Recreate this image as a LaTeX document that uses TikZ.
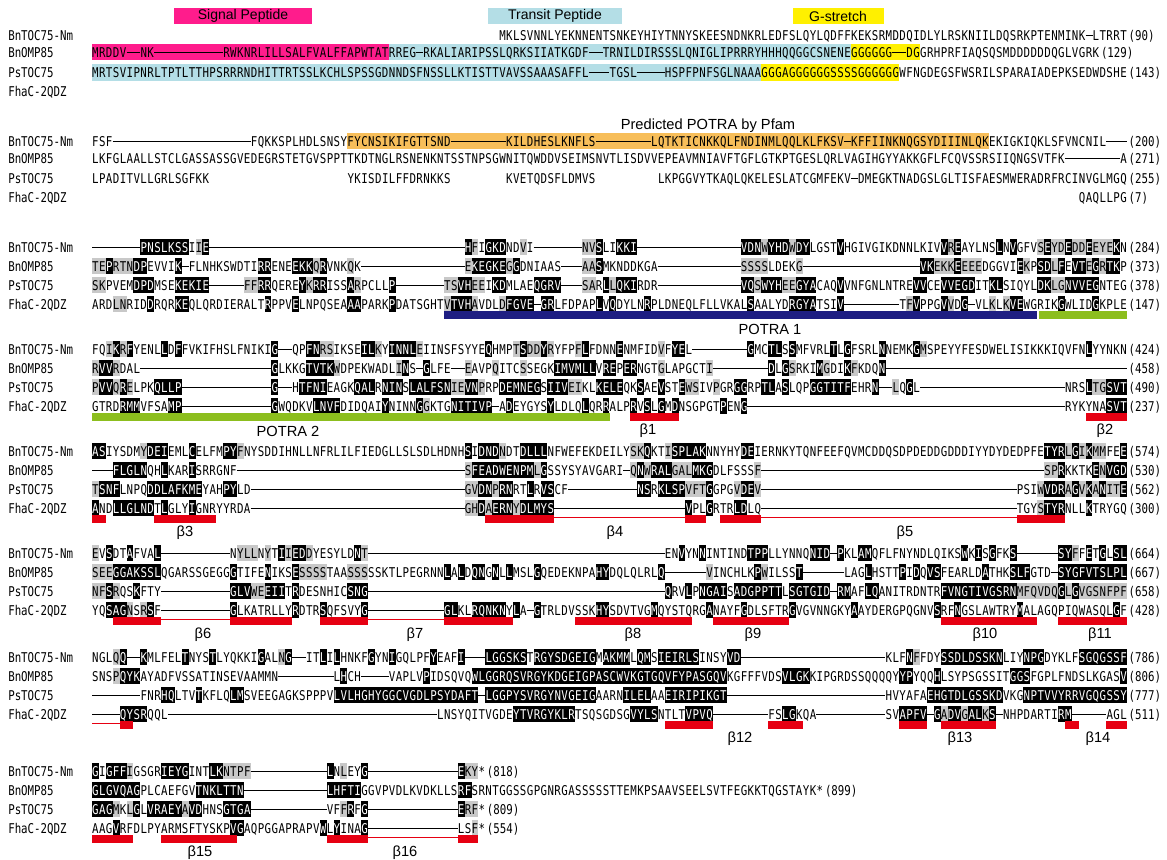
\documentclass[tikz,border=0pt]{standalone}
\usepackage{fontspec}
\setmainfont{Liberation Sans}
\newfontfamily\seqfont{DejaVu Sans Mono}[FakeStretch=0.8]
\usetikzlibrary{positioning}

\definecolor{sigpink}{RGB}{255,28,140}
\definecolor{transblue}{RGB}{180,222,230}
\definecolor{gyellow}{RGB}{255,240,0}
\definecolor{potraorange}{RGB}{247,190,90}
\definecolor{potranavy}{RGB}{30,30,130}
\definecolor{potragreen}{RGB}{140,190,30}
\definecolor{strandred}{RGB}{230,0,18}
\definecolor{seqgrey}{RGB}{200,200,200}

\newlength\pxu \setlength\pxu{0.75pt}
\newlength\cw  \setlength\cw{6.9\pxu}

% alignment rows: X plain, x black box, +X grey box, - gap, . blank
\newif\ifgreycell
\makeatletter
\newcommand\sq[1]{{\seqfont\fontsize{10.1pt}{12pt}\selectfont\sq@loop#1\relax}}
\def\sq@loop#1{\ifx\relax#1\else\sq@tok#1\expandafter\sq@loop\fi}
\def\sq@tok#1{%
  \if#1+\global\greycelltrue\else
  \if#1-\rule[3.6\pxu]{\cw}{1.2\pxu}\else
  \if#1.\kern\cw\else
    \ifnum\lccode`#1=`#1\relax\uppercase{\sq@blk{#1}}%
    \else\ifgreycell\sq@cell{seqgrey}{black}{#1}\else\makebox[\cw]{#1}\fi\fi
    \global\greycellfalse
  \fi\fi\fi}
\def\sq@blk#1{\sq@cell{black}{white}{#1}}
\def\sq@cell#1#2#3{\rlap{\color{#1}\rule[-2.5\pxu]{\cw}{16\pxu}}\makebox[\cw]{\color{#2}#3}}
\makeatother

% column n -> left edge in px
\newcommand\colx[1]{85.1+#1*6.9}

\tikzset{
  seq/.style      = {anchor=base west, inner sep=0pt, outer sep=0pt},
  num/.style      = {inner sep=0pt, font=\seqfont\fontsize{10.1pt}{12pt}\selectfont},
  rowname/.style  = {anchor=base west, inner sep=0pt,
                     font=\seqfont\fontsize{10.1pt}{12pt}\selectfont},
  hdr/.style      = {minimum height=12pt, inner sep=0pt,
                     font=\fontsize{10.5pt}{11pt}\selectfont},
  feature/.style  = {inner sep=0pt, font=\fontsize{11pt}{12pt}\selectfont},
  strand/.style   = {fill=strandred},
  loopline/.style = {strandred, line width=1.1pt},
}

\newcommand\seqrow[5]{%
  \node[seq] (#1) at ({\colx{#2}},#3) {\sq{#4}};
  \node[num, base right=1pt of #1] (#1n) {#5};}
\newcommand\strandbar[3]{\fill[strand] ({\colx{#1}},#3) rectangle ({\colx{#2}+6.9},{#3+7.5});}
\newcommand\loopbar[3]{\draw[loopline] ({\colx{#1}},{#3+2.5}) -- ({\colx{#2}},{#3+2.5});}

\begin{document}
\begin{tikzpicture}[x=0.75pt, y=-0.75pt]
  \fill[white] (0,0) rectangle (1167,860);
  \useasboundingbox (0,0) rectangle (1167,860);

  % ---------------- block 1 ----------------
  \node[hdr, fill=sigpink,   minimum width=103.5pt] (sigpep) at (243,16) {Signal Peptide};
  \node[hdr, fill=transblue, minimum width=100.5pt] (trpep)  at (555,16) {Transit Peptide};
  \node[hdr, fill=gyellow,   minimum width=68.25pt] (gstr)   at (838,16) {G-stretch};

  \fill[sigpink]   ({\colx{1}},43.5)   rectangle ({\colx{44}},60);
  \fill[transblue] ({\colx{44}},43.5)  rectangle ({\colx{111}},60);
  \fill[gyellow]   ({\colx{111}},43.5) rectangle ({\colx{121}},60);
  \fill[transblue] ({\colx{1}},64)     rectangle ({\colx{98}},80.5);
  \fill[gyellow]   ({\colx{98}},64)    rectangle ({\colx{118}},80.5);

  \foreach \nm/\yy in {BnTOC75-Nm/40, BnOMP85/57, PsTOC75/77, FhaC-2QDZ/96}
    \node[rowname] (nm\yy) at (8,\yy) {\nm};

  \seqrow{bIa}{60}{40}{MKLSVNNLYEKNNENTSNKEYHIYTNNYSKEESNDNKRLEDFSLQYLQDFFKEKSRMDDQIDLYLRSKNIILDQSRKPTENMINK-LTRRT}{(90)}
  \seqrow{bIb}{1}{57}{MRDDV--NK----- -----RWKNRLILLSALFVALFFAPWTAT RREG-RKALIARIPSSLQRKSIIATKGDF--TRNILDIRSSSLQNIGLIPRRRYHHHQQGGCSNENE GGGGGG--DGG RHPRFIAQSQSMDDDDDDQGLVGRK}{(129)}
  \seqrow{bIc}{1}{77}{MRTSVIPNRLTPTLTTHPSRRRNDHITTRTSSLKCHLSPSSGDNNDSFNSSLLKTISTTVAVSSAAASAFFL---TGSL----HSPFPNFSGLNAAA GGGAGGGGGGSSSSGGGGGG WFNGDEGSFWSRILSPARAIADEPKSEDWDSHE}{(143)}

  % ---------------- block 2 ----------------
  \node[feature] (pfam) at (708,126) {Predicted POTRA by Pfam};
  \fill[potraorange] ({\colx{38}},132.5) rectangle ({\colx{131}},149);
  \foreach \nm/\yy in {BnTOC75-Nm/146, BnOMP85/163, PsTOC75/183, FhaC-2QDZ/202}
    \node[rowname] (nm\yy) at (8,\yy) {\nm};

  \seqrow{bIIa}{1}{146}{FSF----- ----- ----- -----FQKKSPLHDLSNSY FYCNSIKIFGTTSND-------- KILDHESLKNFLS-------- LQTKTICNKKQLFNDINMLQQLKLFKSV-KFFIINKNQGSYDIIINLQK EKIGKIQKLSFVNCNIL---}{(200)}
  \seqrow{bIIb}{1}{163}{LKFGLAALLSTCLGASSASSGVEDEGRSTETGVSPPTTKDTNGLRSNENKNTSSTNPSGWNITQWDDVSEIMSNVTLISDVVEPEAVMNIAVFTGFLGTKPTGESLQRLVAGIHGYYAKKGFLFCQVSSRSIIQNGSVTFK--------A}{(271)}
  \seqrow{bIIc}{1}{183}{LPADITVLLGRLSGFKK..... ..... ..... .....YKISDILFFDRNKKS........ KVETQDSFLDMVS......... LKPGGVYTKAQLQKELESLATCGMFEKV-DMEGKTNADGSLGLTISFAESMWERADRFRCINVGLMGQ}{(255)}
  \seqrow{bIId}{144}{202}{QAQLLPG}{(7)}

  % ---------------- block 3 ----------------
  \foreach \nm/\yy in {BnTOC75-Nm/252, BnOMP85/271, PsTOC75/290, FhaC-2QDZ/309}
    \node[rowname] (nm\yy) at (8,\yy) {\nm};

  \seqrow{bIIIa}{1}{252}{----- --pnslkssI+Ie----- ----- ----- ----- ----- ----- ----- --h+FIgkdND+VI----- --+N+VsLIkki----- ----- -----vdn+Wyhd+WdyLGSTvHGIVGIKDNNLKIVv+ReAYLNSlNvGFV+Se+Y+De+D+De+E+Y+EkN}{(284)}
  \seqrow{bIIIb}{1}{271}{+T+Ep+R+T+NdpEVVIk-FLNHKSWDTIrrENEekk+QrVNK+QK----- ----- -----+Ekegke+GgDNIAAS---+A+AsMKNDDKGA----- ----- --+S+S+S+SLDEK+G----- ----- ----- --vk+E+K+Ke+E+E+EDGGVIe+KPsd+LfEvt+Eg+RtkP}{(373)}
  \seqrow{bIIIc}{1}{290}{+S+KPVEMdpdMSEkekie-----+F+FrrQEREy+KrrISSa+RPCLLp----- --+T+Svh+E+EIkdMLAEqgrv---+S+ARl+LqkiRDR----- ----- --vq+Swyh+E+EgyaCAQvVNFGNLNTREvvCEvvegdITklSIQYLdk+L+GnvvegNTEG}{(378)}
  \seqrow{bIIId}{1}{309}{ARD+L+NRIDdRQRkeQLQRDIERALTrPPVeLNPQSEAaaPARKpDATSGHT+Vtvh+AVDL+Dfgve-grLFDPAPlVqDYLNrPLDNEQLFLLVKALsAALYDrgyaTSIv----- ---T+FvPPGv+VDg-VL+KL+KveWGRIKgWLIDgKPLE}{(147)}

  \fill[potranavy]  ({\colx{52}},311) rectangle ({\colx{138}},318.5);
  \fill[potragreen] ({\colx{138}+2},311) rectangle ({\colx{150}+6.9},318.5);
  \node[feature] (potra1) at (770,329) {POTRA 1};

  % ---------------- block 4 ----------------
  \foreach \nm/\yy in {BnTOC75-Nm/354, BnOMP85/373, PsTOC75/392, FhaC-2QDZ/411}
    \node[rowname] (nm\yy) at (8,\yy) {\nm};

  \seqrow{bIVa}{1}{354}{FQ+Ik+RfYENLlDfFVKIFHSLFNIKIg--QPfn+R+SIKSEil+KYinnl+EIINSFSYYEqHMP+Ts+D+Dy+RYFP+FlFDNNeNMFID+VFyeL----- ---gMCtlSsMFVRLtLgFSRLnNEMKg+MSPEYYFESDWELISIKKKIQVFNlYYNKN}{(424)}
  \seqrow{bIVb}{1}{373}{+Rvv+RDAL----- ----- ----- ----gLKKGtvtk+WDPEKWADL+InS-gLFE--+EAVP+QITC+SSEGKimvmllVrePerNGT+GLAPGCT+I----- ---dLg+SRKIm+GDIk+FKDQn----- ----- ----- ----- ----- ----- -----}{(458)}
  \seqrow{bIVc}{1}{392}{+Pvv+Qr+ELPKqllp----- ----- ---g--HtfniEAGKq alRninSlal fsn+I+Evn+PRP demnegSiiv +E+IKLkeleQK sAEvSTe+W+SI V+PGRggRPtl AsLQPggtit fEHRn--+LQgL----- ----- ----- ----- -NRSl+T+Gsvt}{(490)}
  \seqrow{bIVd}{1}{411}{GTRDrmmVFSAmp----- ----- ---gWQDKVlnvfDIDQAIyNINNg+GKTGnitivp-AdEYGYSyLDLQlQRrALPrVsLgMdNSGPGTpENg----- ----- ----- ----- ----- ----- ----- ----- ----- -RYKYNAsvt}{(237)}

  \fill[potragreen] ({\colx{1}},413) rectangle ({\colx{75}+6.9},420.5);
  \strandbar{79}{85}{413}
  \strandbar{145}{150}{413}
  \node[feature] (potra2) at (288,431) {POTRA 2};
  \node[feature] (bI)  at (648,431) {β1};
  \node[feature] (bII) at (1105,431) {β2};

  % ---------------- block 5 ----------------
  \foreach \nm/\yy in {BnTOC75-Nm/456, BnOMP85/475, PsTOC75/494, FhaC-2QDZ/513}
    \node[rowname] (nm\yy) at (8,\yy) {\nm};

  \seqrow{bVa}{1}{456}{asIYSDM+Yde iEMLcELFMp y+FNYSDDIHN LLNFRLILFI EDGLLSLSDL HDNHsIdnd+N DTdlllNFWE FEKDEILY+S+K qKT+IsplakN NYHYdeIERN KYTQNFEEFQ VMCDDQSDPD EDDGDDDIYY DYDEDPFEty r+Lg+Ik+M+MFEe}{(574)}
  \seqrow{bVb}{1}{475}{---flglnQHlKARiSRRGNF----- ----- ----- ----- ----- ----- ---+Sfeadwenpm+LgSSYSYAVGARI-+Qn+Wral+G+A+LmkgDLFSSS+F----- ----- ----- ----- ----- ----- ----- ----- -+S+PrKKTKe+Nvgd}{(530)}
  \seqrow{bVc}{1}{494}{+TsnfLNPQddlafkmeYAHpyLD----- ----- ----- ----- ----- ----- -+G+Vdn+PrnRTlRvsCF----- -----nsRklsp+V+F+TgGPG+Vde+V----- ----- ----- ----- ----- ----- ----- --PSI+Wvdr+Ag+Vk+An+I+Te}{(562)}
  \seqrow{bVd}{1}{513}{aNDllglndTlGLYiGNRYYRDA----- ----- ----- ----- ----- ----- -+G+Hd+Aern+Ydlmys----- ----- ----- ----vPLgRTRldLQ----- ----- ----- ----- ----- ----- ----- --TGY+StyrNLLkTRYGQ}{(300)}

  \strandbar{1}{2}{515}
  \strandbar{10}{18}{515}
  \strandbar{58}{67}{515}
  \strandbar{87}{89}{515}
  \strandbar{92}{97}{515}
  \strandbar{135}{141}{515}
  \loopbar{68}{87}{515}
  \loopbar{98}{135}{515}
  \node[feature] (bIII) at (185,533) {β3};
  \node[feature] (bIV)  at (615,533) {β4};
  \node[feature] (bV)   at (905,533) {β5};

  % ---------------- block 6 ----------------
  \foreach \nm/\yy in {BnTOC75-Nm/558, BnOMP85/577, PsTOC75/596, FhaC-2QDZ/615}
    \node[rowname] (nm\yy) at (8,\yy) {\nm};

  \seqrow{bVIa}{1}{558}{+EVsDTaFVAl----- -----N+Y+L+LN+YTi+Ied+DYESYLDn+T----- ----- ----- ----- ----- ----- ----- ----- ---ENvYNnINTINDtppLLYNNQnid-pKLamQFLFNYNDLQIKSwKiSgFKs----- -sy+FFeTgLsl}{(664)}
  \seqrow{bVIb}{1}{577}{+S+E+Eggakssl QGARSSGEGG gTIFEnIKSe +S+S+S+STAA+S+S+S SSKTLPEGRN NlAlDqnGnL lMSLgQEDEK NPAhyDQLQL RLq----- -+VINCHLKp+WILSSt----- -LAGlHSTTpIdQvsFEARLDaTHKslfGTD-sygfvtslpl}{(667)}
  \seqrow{bVIc}{1}{596}{+N+Fs+RQSkFTY----- -----glv+W+EeiiTrDESNHICsng----- ----- ----- ----- ----- ----- ----- ----- ---qRVlPngaiS adgppttLsg tgid-rmAFl qANITRDNTR fvngtivgsr n+M+F+Q+V+D+Qg+Lg +V+G+S+N+F+P+F}{(658)}
  \seqrow{bVId}{1}{615}{YQsag+NS+RsF----- -----gLKATRLLYrDTRsQFSVYg----- ----- -glKLrqnknYlA-gTRLDVSSKh ySDVTVGmQY STQRGaNAYF gDLSFTRgVG VNNGKYaAYD ERGPQGNVsR FnGSLAWTRY mALAGQPIQW ASQLgF}{(428)}

  \strandbar{4}{10}{617}
  \strandbar{21}{29}{617}
  \strandbar{34}{40}{617}
  \strandbar{52}{61}{617}
  \strandbar{71}{87}{617}
  \strandbar{91}{101}{617}
  \strandbar{124}{137}{617}
  \strandbar{141}{150}{617}
  \loopbar{11}{21}{617}
  \loopbar{41}{52}{617}
  \node[feature] (bVI)   at (203,635) {β6};
  \node[feature] (bVII)  at (415,635) {β7};
  \node[feature] (bVIII) at (633,635) {β8};
  \node[feature] (bIX)   at (753,635) {β9};
  \node[feature] (bX)    at (985,635) {β10};
  \node[feature] (bXI)   at (1100,635) {β11};

  % ---------------- block 7 ----------------
  \foreach \nm/\yy in {BnTOC75-Nm/662, BnOMP85/681, PsTOC75/700, FhaC-2QDZ/719}
    \node[rowname] (nm\yy) at (8,\yy) {\nm};

  \seqrow{bVIIa}{1}{662}{NGL+Qq--kMLFELtNYStLYQKKIgAL+Ng--ITlIlHNKFgYNiGQLPFyEAFi---lggsksTrgysdgeigMakmmLqmSieirlsINSYvd----- ----- ----- ----- -KLFn+FFDYssdldssknLIYnpgDYKLFsgqgssf}{(786)}
  \seqrow{bVIIb}{1}{681}{SNS+PqykAYADFVSSATINSEVAAMMN----- ---LhCH----VAPLVpIDSQ VQwlggrqsv rgykdgeigp ascwvkgtgq vfypasgqvK GFFFVDSvlg kKIPGRDSSQ QQQYypYQQh LSYPSGSSIT ggsFGPLFND SLKGASv}{(806)}
  \seqrow{bVIIc}{1}{700}{----- --FNRhqLTVtK FLQlmSVEEG AGKSPPPVlv lhghyggcvg dlpsydaft-lggpysvrgy nvgeigAARN ilelAAeiri pikgt----- ----- ----- ----- ---HVYAFAehgt dlgsskdVKG nptvvyrrvg qgssy}{(777)}
  \seqrow{bVIId}{1}{719}{----qysrQQL----- ----- ----- ----- ----- ----- ----- ----LNSYQITVGDEytvrgyklrTSQSGDSGvylsNTLTvpvq----- ---FSlgKQA----- -----SVapfv-g+Adv+Gal+Ks-NHPDARTIrm-----AGL}{(511)}

  \loopbar{1}{5}{721}
  \strandbar{5}{6}{721}
  \strandbar{84}{90}{721}
  \strandbar{99}{103}{721}
  \strandbar{118}{121}{721}
  \strandbar{124}{131}{721}
  \strandbar{142}{143}{721}
  \strandbar{148}{150}{721}
  \node[feature] (bXII)  at (740,739) {β12};
  \node[feature] (bXIII) at (960,739) {β13};
  \node[feature] (bXIV)  at (1098,739) {β14};

  % ---------------- block 8 ----------------
  \foreach \nm/\yy in {BnTOC75-Nm/776, BnOMP85/795, PsTOC75/814, FhaC-2QDZ/833}
    \node[rowname] (nm\yy) at (8,\yy) {\nm};

  \seqrow{bVIIIa}{1}{776}{gIgff+IGSGRieygINTlk+N+T+P+F----- ----- -lN+LEYg----- ----- ---e+K+Y*}{(818)}
  \seqrow{bVIIIb}{1}{795}{glgvqagPLCAEFGVtnklttn----- ----- --lhftiGGVPVDLKVDKLLSrfSRNTGGSSGPGNRGASSSSSTTEMKPSAAVSEELSVTFEGKKTQGSTAYK*}{(899)}
  \seqrow{bVIIIc}{1}{814}{gag+MK+LgLvraey+AvdHNSgtga----- ----- -VF+FrFg----- ----- ---e+R+F*}{(809)}
  \seqrow{bVIIId}{1}{833}{AAGvRFDLPYARMSFTYSKPvgAQPGGAPRAPVwLyINAg----- ----- ---LS+F*}{(554)}

  \strandbar{1}{6}{835}
  \strandbar{11}{21}{835}
  \strandbar{35}{40}{835}
  \strandbar{54}{56}{835}
  \loopbar{41}{54}{835}
  \node[feature] (bXV)  at (200,853) {β15};
  \node[feature] (bXVI) at (405,853) {β16};
\end{tikzpicture}
\end{document}
